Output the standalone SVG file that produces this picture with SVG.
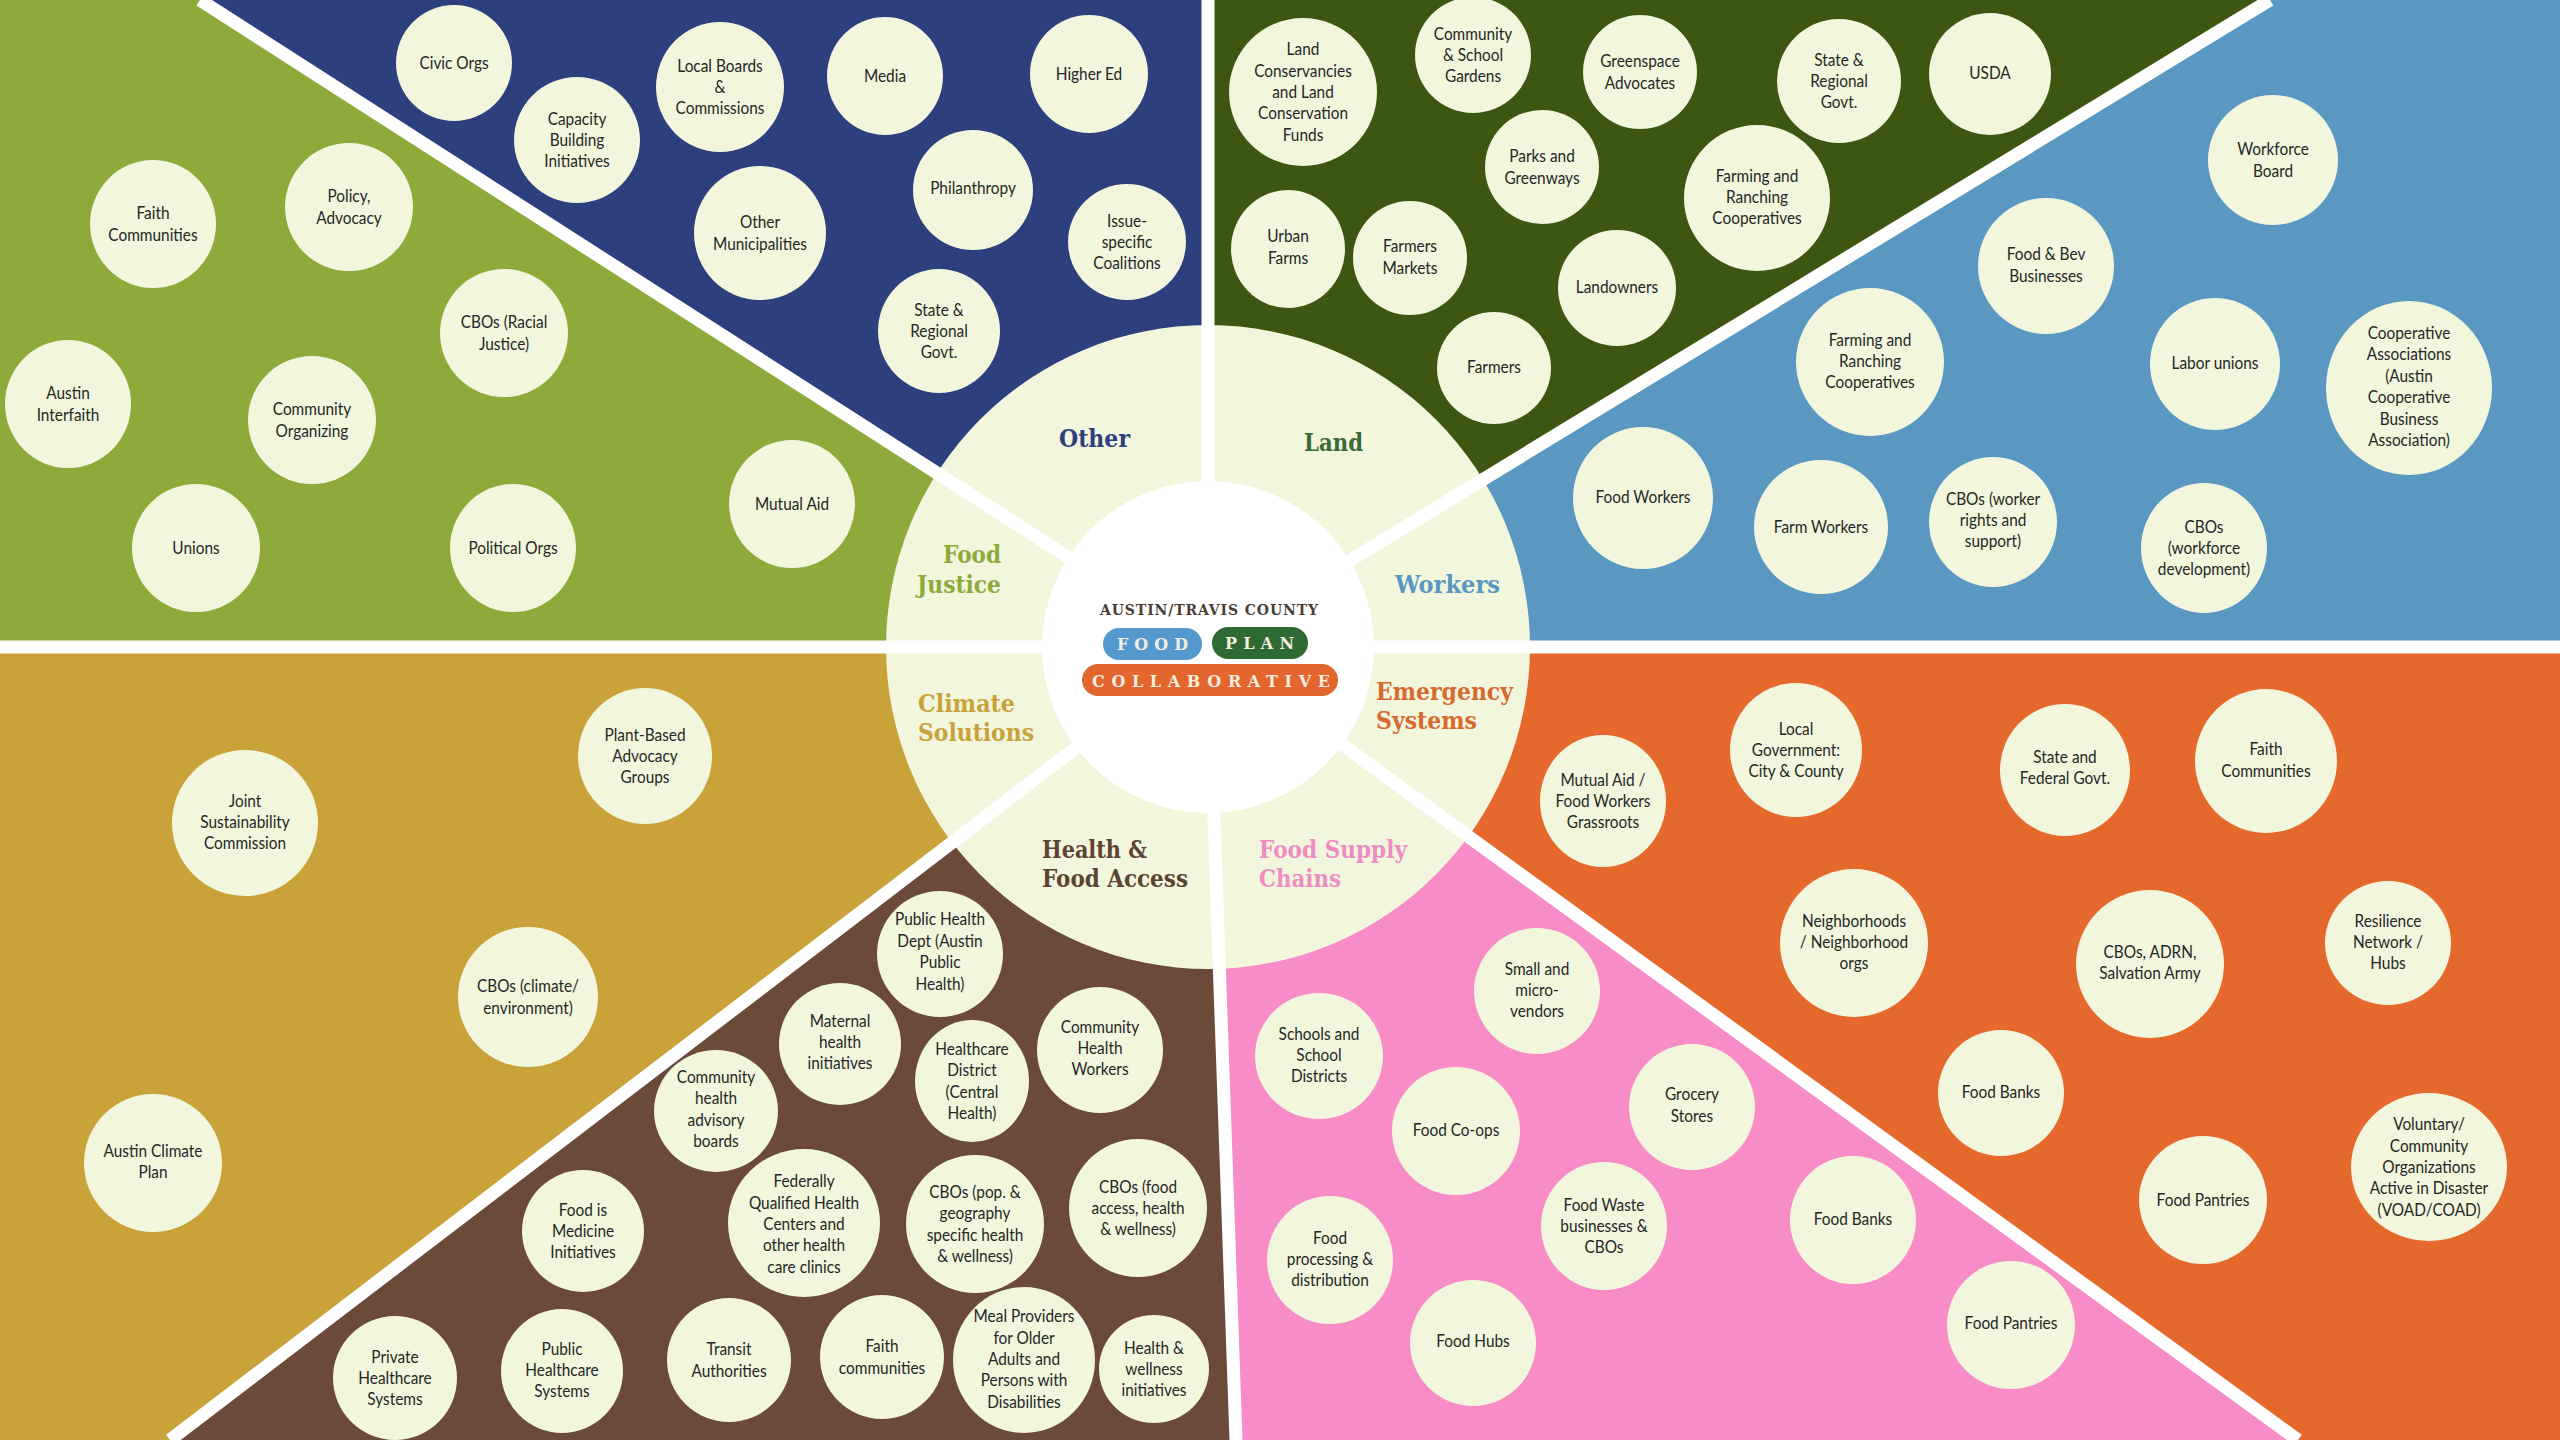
<svg xmlns="http://www.w3.org/2000/svg" width="2560" height="1440" viewBox="0 0 2560 1440">
<style>
.nd ellipse{fill:#f1f6dc}
.nd text{font-family:Lato,"Open Sans","Liberation Sans",sans-serif;font-size:17.5px;fill:#262626;text-anchor:middle;transform:scaleX(0.88)}
.lbl{font-family:"DejaVu Serif","Liberation Serif",serif;font-weight:bold;font-size:25px}
.logo{font-family:"DejaVu Serif","Liberation Serif",serif;font-weight:bold}
.cut{stroke:#ffffff;stroke-width:13;fill:none}
</style>
<g id="sectors">
<polygon points="1208,647 0,647 0,0 200,0" fill="#8daa3b"/>
<polygon points="1208,647 200,0 1208,0" fill="#2e3f7e"/>
<polygon points="1208,647 1208,0 2270,0" fill="#3d5713"/>
<polygon points="1208,647 2270,0 2560,0 2560,647" fill="#5a98c2"/>
<polygon points="1208,647 2560,647 2560,1440 2298,1440" fill="#e5682c"/>
<polygon points="1208,647 2298,1440 1236,1440" fill="#f78cc6"/>
<polygon points="1208,647 1236,1440 170,1440" fill="#6b4a3a"/>
<polygon points="1208,647 170,1440 0,1440 0,647" fill="#c9a23a"/>
</g>
<circle id="ring" cx="1208" cy="647" r="322" fill="#f1f6dc"/>
<g id="connectors" class="cut">
<line x1="1208" y1="647" x2="1208" y2="0"/>
<line x1="1208" y1="647" x2="200" y2="0"/>
<line x1="1208" y1="647" x2="2270" y2="0"/>
<line x1="1208" y1="647" x2="0" y2="647"/>
<line x1="1208" y1="647" x2="2560" y2="647"/>
<line x1="1208" y1="647" x2="2298" y2="1440"/>
<line x1="1208" y1="647" x2="1236" y2="1440"/>
<line x1="1208" y1="647" x2="170" y2="1440"/>
</g>
<circle id="hub" cx="1208" cy="647" r="166" fill="#ffffff"/>
<g id="logo" class="logo">
<text x="1100" y="615" font-size="14" fill="#4b3d35" textLength="218" lengthAdjust="spacing">AUSTIN/TRAVIS COUNTY</text>
<rect x="1103" y="628" width="99" height="32" rx="16" fill="#5399cd"/>
<text x="1117" y="650" font-size="16" fill="#f4eedf" textLength="71" lengthAdjust="spacing">FOOD</text>
<rect x="1212" y="627" width="96" height="32" rx="16" fill="#2f6a35"/>
<text x="1225" y="649" font-size="16" fill="#f4eedf" textLength="69" lengthAdjust="spacing">PLAN</text>
<rect x="1082" y="664" width="256" height="32" rx="16" fill="#e2662e"/>
<text x="1092" y="687" font-size="16" fill="#f4eedf" textLength="238" lengthAdjust="spacing">COLLABORATIVE</text>
</g>
<g id="labels" class="lbl">
<text x="1059" y="447" fill="#2e3f7e" textLength="71" lengthAdjust="spacingAndGlyphs">Other</text>
<text x="1304" y="451" fill="#3b6a3a" textLength="59" lengthAdjust="spacingAndGlyphs">Land</text>
<text fill="#8daa3b"><tspan x="943" y="563" textLength="58" lengthAdjust="spacingAndGlyphs">Food</tspan><tspan x="917" y="593" textLength="84" lengthAdjust="spacingAndGlyphs">Justice</tspan></text>
<text x="1395" y="593" fill="#5a98c2" textLength="105" lengthAdjust="spacingAndGlyphs">Workers</text>
<text fill="#d8692f"><tspan x="1376" y="700" textLength="137" lengthAdjust="spacingAndGlyphs">Emergency</tspan><tspan x="1376" y="729" textLength="101" lengthAdjust="spacingAndGlyphs">Systems</tspan></text>
<text fill="#c9a23a"><tspan x="918" y="712" textLength="97" lengthAdjust="spacingAndGlyphs">Climate</tspan><tspan x="918" y="741" textLength="116" lengthAdjust="spacingAndGlyphs">Solutions</tspan></text>
<text fill="#5c4334"><tspan x="1042" y="858" textLength="105" lengthAdjust="spacingAndGlyphs">Health &amp;</tspan><tspan x="1042" y="887" textLength="146" lengthAdjust="spacingAndGlyphs">Food Access</tspan></text>
<text fill="#f08cc4"><tspan x="1259" y="858" textLength="148" lengthAdjust="spacingAndGlyphs">Food Supply</tspan><tspan x="1259" y="887" textLength="82" lengthAdjust="spacingAndGlyphs">Chains</tspan></text>
</g>
<g id="nodes">
<!-- Food Justice -->
<g id="fj-faith" class="nd" transform="translate(153 224)"><ellipse rx="63" ry="64"/><text><tspan x="0" y="-4.7">Faith</tspan><tspan x="0" y="16.7">Communities</tspan></text></g>
<g id="fj-policy" class="nd" transform="translate(349 207)"><ellipse rx="64" ry="64"/><text><tspan x="0" y="-4.7">Policy,</tspan><tspan x="0" y="16.7">Advocacy</tspan></text></g>
<g id="fj-cbos" class="nd" transform="translate(504 333)"><ellipse rx="64" ry="64"/><text><tspan x="0" y="-4.7">CBOs (Racial</tspan><tspan x="0" y="16.7">Justice)</tspan></text></g>
<g id="fj-interfaith" class="nd" transform="translate(68 404)"><ellipse rx="63" ry="64"/><text><tspan x="0" y="-4.7">Austin</tspan><tspan x="0" y="16.7">Interfaith</tspan></text></g>
<g id="fj-organizing" class="nd" transform="translate(312 420)"><ellipse rx="64" ry="64"/><text><tspan x="0" y="-4.7">Community</tspan><tspan x="0" y="16.7">Organizing</tspan></text></g>
<g id="fj-unions" class="nd" transform="translate(196 548)"><ellipse rx="64" ry="64"/><text><tspan x="0" y="6">Unions</tspan></text></g>
<g id="fj-political" class="nd" transform="translate(513 548)"><ellipse rx="63" ry="64"/><text><tspan x="0" y="6">Political Orgs</tspan></text></g>
<g id="fj-mutual" class="nd" transform="translate(792 504)"><ellipse rx="63" ry="64"/><text><tspan x="0" y="6">Mutual Aid</tspan></text></g>
<!-- Other -->
<g id="ot-civic" class="nd" transform="translate(454 63)"><ellipse rx="58" ry="58"/><text><tspan x="0" y="6">Civic Orgs</tspan></text></g>
<g id="ot-capacity" class="nd" transform="translate(577 140)"><ellipse rx="63" ry="63"/><text><tspan x="0" y="-15.4">Capacity</tspan><tspan x="0" y="6">Building</tspan><tspan x="0" y="27.4">Initiatives</tspan></text></g>
<g id="ot-boards" class="nd" transform="translate(720 87)"><ellipse rx="64" ry="65"/><text><tspan x="0" y="-15.4">Local Boards</tspan><tspan x="0" y="6">&amp;</tspan><tspan x="0" y="27.4">Commissions</tspan></text></g>
<g id="ot-municipal" class="nd" transform="translate(760 233)"><ellipse rx="66" ry="67"/><text><tspan x="0" y="-4.7">Other</tspan><tspan x="0" y="16.7">Municipalities</tspan></text></g>
<g id="ot-media" class="nd" transform="translate(885 76)"><ellipse rx="58" ry="59"/><text><tspan x="0" y="6">Media</tspan></text></g>
<g id="ot-highered" class="nd" transform="translate(1089 74)"><ellipse rx="59" ry="59"/><text><tspan x="0" y="6">Higher Ed</tspan></text></g>
<g id="ot-philanthropy" class="nd" transform="translate(973 190)"><ellipse rx="60" ry="60"/><text><tspan x="0" y="4">Philanthropy</tspan></text></g>
<g id="ot-issue" class="nd" transform="translate(1127 242)"><ellipse rx="59" ry="58"/><text><tspan x="0" y="-15.4">Issue-</tspan><tspan x="0" y="6">specific</tspan><tspan x="0" y="27.4">Coalitions</tspan></text></g>
<g id="ot-state" class="nd" transform="translate(939 331)"><ellipse rx="61" ry="62"/><text><tspan x="0" y="-15.4">State &amp;</tspan><tspan x="0" y="6">Regional</tspan><tspan x="0" y="27.4">Govt.</tspan></text></g>
<!-- Land -->
<g id="la-conserv" class="nd" transform="translate(1303 92)"><ellipse rx="74" ry="74"/><text><tspan x="0" y="-36.8">Land</tspan><tspan x="0" y="-15.4">Conservancies</tspan><tspan x="0" y="6">and Land</tspan><tspan x="0" y="27.4">Conservation</tspan><tspan x="0" y="48.8">Funds</tspan></text></g>
<g id="la-gardens" class="nd" transform="translate(1473 55)"><ellipse rx="58" ry="58"/><text><tspan x="0" y="-15.4">Community</tspan><tspan x="0" y="6">&amp; School</tspan><tspan x="0" y="27.4">Gardens</tspan></text></g>
<g id="la-greenspace" class="nd" transform="translate(1640 72)"><ellipse rx="57" ry="57"/><text><tspan x="0" y="-4.7">Greenspace</tspan><tspan x="0" y="16.7">Advocates</tspan></text></g>
<g id="la-parks" class="nd" transform="translate(1542 167)"><ellipse rx="57" ry="57"/><text><tspan x="0" y="-4.7">Parks and</tspan><tspan x="0" y="16.7">Greenways</tspan></text></g>
<g id="la-urban" class="nd" transform="translate(1288 249)"><ellipse rx="57" ry="59"/><text><tspan x="0" y="-6.7">Urban</tspan><tspan x="0" y="14.7">Farms</tspan></text></g>
<g id="la-markets" class="nd" transform="translate(1410 258)"><ellipse rx="57" ry="57"/><text><tspan x="0" y="-5.7">Farmers</tspan><tspan x="0" y="15.7">Markets</tspan></text></g>
<g id="la-landowners" class="nd" transform="translate(1617 288)"><ellipse rx="59" ry="58"/><text><tspan x="0" y="5">Landowners</tspan></text></g>
<g id="la-farmers" class="nd" transform="translate(1494 368)"><ellipse rx="57" ry="56"/><text><tspan x="0" y="5">Farmers</tspan></text></g>
<g id="la-state" class="nd" transform="translate(1839 81)"><ellipse rx="62" ry="62"/><text><tspan x="0" y="-15.4">State &amp;</tspan><tspan x="0" y="6">Regional</tspan><tspan x="0" y="27.4">Govt.</tspan></text></g>
<g id="la-usda" class="nd" transform="translate(1990 74)"><ellipse rx="61" ry="61"/><text><tspan x="0" y="5">USDA</tspan></text></g>
<g id="la-coops" class="nd" transform="translate(1757 198)"><ellipse rx="73" ry="73"/><text><tspan x="0" y="-16.4">Farming and</tspan><tspan x="0" y="5">Ranching</tspan><tspan x="0" y="26.4">Cooperatives</tspan></text></g>
<!-- Workers -->
<g id="wk-workforce" class="nd" transform="translate(2273 160)"><ellipse rx="65" ry="65"/><text><tspan x="0" y="-4.7">Workforce</tspan><tspan x="0" y="16.7">Board</tspan></text></g>
<g id="wk-foodbev" class="nd" transform="translate(2046 266)"><ellipse rx="68" ry="68"/><text><tspan x="0" y="-5.7">Food &amp; Bev</tspan><tspan x="0" y="15.7">Businesses</tspan></text></g>
<g id="wk-coops" class="nd" transform="translate(1870 362)"><ellipse rx="74" ry="74"/><text><tspan x="0" y="-16.4">Farming and</tspan><tspan x="0" y="5">Ranching</tspan><tspan x="0" y="26.4">Cooperatives</tspan></text></g>
<g id="wk-labor" class="nd" transform="translate(2215 364)"><ellipse rx="65" ry="66"/><text><tspan x="0" y="5">Labor unions</tspan></text></g>
<g id="wk-coopassoc" class="nd" transform="translate(2409 388)"><ellipse rx="83" ry="87"/><text><tspan x="0" y="-49">Cooperative</tspan><tspan x="0" y="-27.6">Associations</tspan><tspan x="0" y="-6.2">(Austin</tspan><tspan x="0" y="15.2">Cooperative</tspan><tspan x="0" y="36.6">Business</tspan><tspan x="0" y="58">Association)</tspan></text></g>
<g id="wk-foodworkers" class="nd" transform="translate(1643 498)"><ellipse rx="70" ry="71"/><text><tspan x="0" y="5">Food Workers</tspan></text></g>
<g id="wk-farmworkers" class="nd" transform="translate(1821 527)"><ellipse rx="67" ry="67"/><text><tspan x="0" y="6">Farm Workers</tspan></text></g>
<g id="wk-cbosrights" class="nd" transform="translate(1993 522)"><ellipse rx="64" ry="65"/><text><tspan x="0" y="-17.4">CBOs (worker</tspan><tspan x="0" y="4">rights and</tspan><tspan x="0" y="25.4">support)</tspan></text></g>
<g id="wk-cbosworkforce" class="nd" transform="translate(2204 548)"><ellipse rx="63" ry="65"/><text><tspan x="0" y="-15.4">CBOs</tspan><tspan x="0" y="6">(workforce</tspan><tspan x="0" y="27.4">development)</tspan></text></g>
<!-- Emergency Systems -->
<g id="em-mutual" class="nd" transform="translate(1603 801)"><ellipse rx="63" ry="66"/><text><tspan x="0" y="-15.4">Mutual Aid /</tspan><tspan x="0" y="6">Food Workers</tspan><tspan x="0" y="27.4">Grassroots</tspan></text></g>
<g id="em-local" class="nd" transform="translate(1796 750)"><ellipse rx="66" ry="67"/><text><tspan x="0" y="-15.4">Local</tspan><tspan x="0" y="6">Government:</tspan><tspan x="0" y="27.4">City &amp; County</tspan></text></g>
<g id="em-statefed" class="nd" transform="translate(2065 770)"><ellipse rx="65" ry="66"/><text><tspan x="0" y="-7.2">State and</tspan><tspan x="0" y="14.2">Federal Govt.</tspan></text></g>
<g id="em-faith" class="nd" transform="translate(2266 761)"><ellipse rx="71" ry="72"/><text><tspan x="0" y="-5.7">Faith</tspan><tspan x="0" y="15.7">Communities</tspan></text></g>
<g id="em-neighborhoods" class="nd" transform="translate(1854 943)"><ellipse rx="74" ry="74"/><text><tspan x="0" y="-16.4">Neighborhoods</tspan><tspan x="0" y="5">/ Neighborhood</tspan><tspan x="0" y="26.4">orgs</tspan></text></g>
<g id="em-cbos" class="nd" transform="translate(2150 964)"><ellipse rx="74" ry="74"/><text><tspan x="0" y="-6.2">CBOs, ADRN,</tspan><tspan x="0" y="15.2">Salvation Army</tspan></text></g>
<g id="em-resilience" class="nd" transform="translate(2388 943)"><ellipse rx="63" ry="62"/><text><tspan x="0" y="-16.4">Resilience</tspan><tspan x="0" y="5">Network /</tspan><tspan x="0" y="26.4">Hubs</tspan></text></g>
<g id="em-foodbanks" class="nd" transform="translate(2001 1093)"><ellipse rx="63" ry="63"/><text><tspan x="0" y="5">Food Banks</tspan></text></g>
<g id="em-pantries" class="nd" transform="translate(2203 1200)"><ellipse rx="64" ry="64"/><text><tspan x="0" y="6">Food Pantries</tspan></text></g>
<g id="em-voad" class="nd" transform="translate(2429 1167)"><ellipse rx="78" ry="74"/><text><tspan x="0" y="-36.8">Voluntary/</tspan><tspan x="0" y="-15.4">Community</tspan><tspan x="0" y="6">Organizations</tspan><tspan x="0" y="27.4">Active in Disaster</tspan><tspan x="0" y="48.8">(VOAD/COAD)</tspan></text></g>
<!-- Food Supply Chains -->
<g id="fs-schools" class="nd" transform="translate(1319 1056)"><ellipse rx="64" ry="63"/><text><tspan x="0" y="-16.4">Schools and</tspan><tspan x="0" y="5">School</tspan><tspan x="0" y="26.4">Districts</tspan></text></g>
<g id="fs-vendors" class="nd" transform="translate(1537 991)"><ellipse rx="63" ry="63"/><text><tspan x="0" y="-16.4">Small  and</tspan><tspan x="0" y="5">micro-</tspan><tspan x="0" y="26.4">vendors</tspan></text></g>
<g id="fs-coops" class="nd" transform="translate(1456 1131)"><ellipse rx="64" ry="64"/><text><tspan x="0" y="5">Food Co-ops</tspan></text></g>
<g id="fs-grocery" class="nd" transform="translate(1692 1107)"><ellipse rx="63" ry="63"/><text><tspan x="0" y="-6.7">Grocery</tspan><tspan x="0" y="14.7">Stores</tspan></text></g>
<g id="fs-processing" class="nd" transform="translate(1330 1260)"><ellipse rx="63" ry="64"/><text><tspan x="0" y="-16.4">Food</tspan><tspan x="0" y="5">processing &amp;</tspan><tspan x="0" y="26.4">distribution</tspan></text></g>
<g id="fs-waste" class="nd" transform="translate(1604 1226)"><ellipse rx="63" ry="64"/><text><tspan x="0" y="-15.4">Food Waste</tspan><tspan x="0" y="6">businesses &amp;</tspan><tspan x="0" y="27.4">CBOs</tspan></text></g>
<g id="fs-hubs" class="nd" transform="translate(1473 1343)"><ellipse rx="63" ry="63"/><text><tspan x="0" y="4">Food Hubs</tspan></text></g>
<g id="fs-banks" class="nd" transform="translate(1853 1220)"><ellipse rx="63" ry="64"/><text><tspan x="0" y="5">Food Banks</tspan></text></g>
<g id="fs-pantries" class="nd" transform="translate(2011 1325)"><ellipse rx="64" ry="64"/><text><tspan x="0" y="4">Food Pantries</tspan></text></g>
<!-- Health & Food Access -->
<g id="hf-publichealth" class="nd" transform="translate(940 954)"><ellipse rx="63" ry="63"/><text><tspan x="0" y="-28.6">Public Health</tspan><tspan x="0" y="-7.2">Dept (Austin</tspan><tspan x="0" y="14.2">Public</tspan><tspan x="0" y="35.6">Health)</tspan></text></g>
<g id="hf-maternal" class="nd" transform="translate(840 1044)"><ellipse rx="61" ry="61"/><text><tspan x="0" y="-17.4">Maternal</tspan><tspan x="0" y="4">health</tspan><tspan x="0" y="25.4">initiatives</tspan></text></g>
<g id="hf-district" class="nd" transform="translate(972 1081)"><ellipse rx="57" ry="61"/><text><tspan x="0" y="-26.1">Healthcare</tspan><tspan x="0" y="-4.7">District</tspan><tspan x="0" y="16.7">(Central</tspan><tspan x="0" y="38.1">Health)</tspan></text></g>
<g id="hf-chw" class="nd" transform="translate(1100 1050)"><ellipse rx="63" ry="63"/><text><tspan x="0" y="-17.4">Community</tspan><tspan x="0" y="4">Health</tspan><tspan x="0" y="25.4">Workers</tspan></text></g>
<g id="hf-advisory" class="nd" transform="translate(716 1111)"><ellipse rx="62" ry="61"/><text><tspan x="0" y="-28.1">Community</tspan><tspan x="0" y="-6.7">health</tspan><tspan x="0" y="14.7">advisory</tspan><tspan x="0" y="36.1">boards</tspan></text></g>
<g id="hf-medicine" class="nd" transform="translate(583 1231)"><ellipse rx="61" ry="61"/><text><tspan x="0" y="-15.4">Food is</tspan><tspan x="0" y="6">Medicine</tspan><tspan x="0" y="27.4">Initiatives</tspan></text></g>
<g id="hf-fqhc" class="nd" transform="translate(804 1223)"><ellipse rx="76" ry="74"/><text><tspan x="0" y="-35.8">Federally</tspan><tspan x="0" y="-14.4">Qualified Health</tspan><tspan x="0" y="7">Centers and</tspan><tspan x="0" y="28.4">other health</tspan><tspan x="0" y="49.8">care clinics</tspan></text></g>
<g id="hf-cbospop" class="nd" transform="translate(975 1224)"><ellipse rx="69" ry="69"/><text><tspan x="0" y="-26.1">CBOs (pop. &amp;</tspan><tspan x="0" y="-4.7">geography</tspan><tspan x="0" y="16.7">specific health</tspan><tspan x="0" y="38.1">&amp; wellness)</tspan></text></g>
<g id="hf-cbosfood" class="nd" transform="translate(1138 1208)"><ellipse rx="69" ry="69"/><text><tspan x="0" y="-15.4">CBOs (food</tspan><tspan x="0" y="6">access, health</tspan><tspan x="0" y="27.4">&amp; wellness)</tspan></text></g>
<g id="hf-private" class="nd" transform="translate(395 1378)"><ellipse rx="62" ry="62"/><text><tspan x="0" y="-15.4">Private</tspan><tspan x="0" y="6">Healthcare</tspan><tspan x="0" y="27.4">Systems</tspan></text></g>
<g id="hf-public" class="nd" transform="translate(562 1371)"><ellipse rx="61" ry="62"/><text><tspan x="0" y="-16.4">Public</tspan><tspan x="0" y="5">Healthcare</tspan><tspan x="0" y="26.4">Systems</tspan></text></g>
<g id="hf-transit" class="nd" transform="translate(729 1360)"><ellipse rx="62" ry="62"/><text><tspan x="0" y="-4.7">Transit</tspan><tspan x="0" y="16.7">Authorities</tspan></text></g>
<g id="hf-faith" class="nd" transform="translate(882 1357)"><ellipse rx="62" ry="62"/><text><tspan x="0" y="-4.7">Faith</tspan><tspan x="0" y="16.7">communities</tspan></text></g>
<g id="hf-meals" class="nd" transform="translate(1024 1360)"><ellipse rx="71" ry="73"/><text><tspan x="0" y="-37.8">Meal Providers</tspan><tspan x="0" y="-16.4">for Older</tspan><tspan x="0" y="5">Adults and</tspan><tspan x="0" y="26.4">Persons with</tspan><tspan x="0" y="47.8">Disabilities</tspan></text></g>
<g id="hf-wellness" class="nd" transform="translate(1154 1369)"><ellipse rx="55" ry="54"/><text><tspan x="0" y="-15.4">Health &amp;</tspan><tspan x="0" y="6">wellness</tspan><tspan x="0" y="27.4">initiatives</tspan></text></g>
<!-- Climate Solutions -->
<g id="cs-plant" class="nd" transform="translate(645 756)"><ellipse rx="67" ry="68"/><text><tspan x="0" y="-15.4">Plant-Based</tspan><tspan x="0" y="6">Advocacy</tspan><tspan x="0" y="27.4">Groups</tspan></text></g>
<g id="cs-joint" class="nd" transform="translate(245 823)"><ellipse rx="73" ry="73"/><text><tspan x="0" y="-16.4">Joint</tspan><tspan x="0" y="5">Sustainability</tspan><tspan x="0" y="26.4">Commission</tspan></text></g>
<g id="cs-cbos" class="nd" transform="translate(528 997)"><ellipse rx="70" ry="70"/><text><tspan x="0" y="-4.7">CBOs (climate/</tspan><tspan x="0" y="16.7">environment)</tspan></text></g>
<g id="cs-plan" class="nd" transform="translate(153 1163)"><ellipse rx="69" ry="69"/><text><tspan x="0" y="-6.2">Austin Climate</tspan><tspan x="0" y="15.2">Plan</tspan></text></g>
</g>
</svg>
